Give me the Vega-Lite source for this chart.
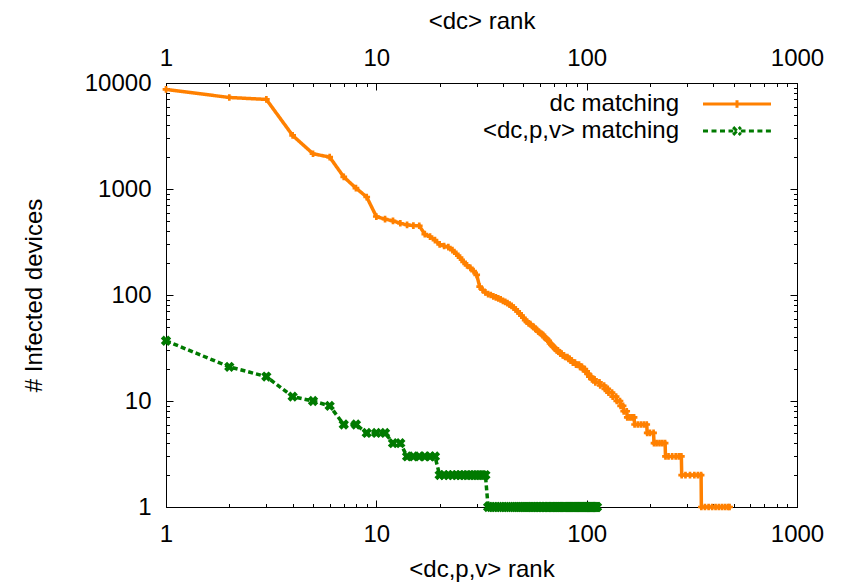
{
  "$schema": "https://vega.github.io/schema/vega-lite/v6.json",
  "width": 631,
  "height": 424,
  "autosize": {"type": "none"},
  "padding": {"left": 166, "top": 83, "right": 47, "bottom": 77},
  "background": "white",
  "config": {
    "font": "Liberation Sans",
    "view": {"stroke": "black", "strokeWidth": 1},
    "axis": {
      "labelFont": "Liberation Sans", "labelFontSize": 24, "labelColor": "black",
      "titleFont": "Liberation Sans", "titleFontSize": 24, "titleFontWeight": "normal", "titleColor": "black",
      "domainColor": "black", "tickColor": "black", "grid": false, "labelFlush": false, "labelOverlap": false
    }
  },
  "data": {"values": [
    {"s":"dc matching","rank":1,"n":8700},{"s":"dc matching","rank":2,"n":7300},{"s":"dc matching","rank":3,"n":7000},
    {"s":"dc matching","rank":4,"n":3200},{"s":"dc matching","rank":5,"n":2150},{"s":"dc matching","rank":6,"n":2000},
    {"s":"dc matching","rank":7,"n":1300},{"s":"dc matching","rank":8,"n":1020},{"s":"dc matching","rank":9,"n":840},
    {"s":"dc matching","rank":10,"n":550},{"s":"dc matching","rank":11,"n":520},{"s":"dc matching","rank":12,"n":500},
    {"s":"dc matching","rank":13,"n":475},{"s":"dc matching","rank":14,"n":458},{"s":"dc matching","rank":15,"n":452},
    {"s":"dc matching","rank":16,"n":450},{"s":"dc matching","rank":17,"n":375},{"s":"dc matching","rank":18,"n":355},
    {"s":"dc matching","rank":19,"n":330},{"s":"dc matching","rank":20,"n":300},{"s":"dc matching","rank":21,"n":290},
    {"s":"dc matching","rank":22,"n":283},{"s":"dc matching","rank":23,"n":265},{"s":"dc matching","rank":24,"n":245},
    {"s":"dc matching","rank":25,"n":225},{"s":"dc matching","rank":26,"n":205},{"s":"dc matching","rank":27,"n":190},
    {"s":"dc matching","rank":28,"n":180},{"s":"dc matching","rank":29,"n":168},{"s":"dc matching","rank":30,"n":155},
    {"s":"dc matching","rank":31,"n":120},{"s":"dc matching","rank":32,"n":112},{"s":"dc matching","rank":33,"n":106},
    {"s":"dc matching","rank":34,"n":102},{"s":"dc matching","rank":35,"n":100},{"s":"dc matching","rank":36,"n":97},
    {"s":"dc matching","rank":37,"n":95},{"s":"dc matching","rank":38,"n":93},{"s":"dc matching","rank":39,"n":91},
    {"s":"dc matching","rank":40,"n":88},{"s":"dc matching","rank":41,"n":86},{"s":"dc matching","rank":42,"n":84},
    {"s":"dc matching","rank":43,"n":81},{"s":"dc matching","rank":44,"n":79},{"s":"dc matching","rank":45,"n":76},
    {"s":"dc matching","rank":46,"n":73},{"s":"dc matching","rank":47,"n":70},{"s":"dc matching","rank":48,"n":67},
    {"s":"dc matching","rank":49,"n":64},{"s":"dc matching","rank":50,"n":61},{"s":"dc matching","rank":51,"n":58},
    {"s":"dc matching","rank":52,"n":56},{"s":"dc matching","rank":53,"n":54},{"s":"dc matching","rank":54,"n":53},
    {"s":"dc matching","rank":55,"n":51},{"s":"dc matching","rank":56,"n":50},{"s":"dc matching","rank":57,"n":48},
    {"s":"dc matching","rank":58,"n":47},{"s":"dc matching","rank":59,"n":45},{"s":"dc matching","rank":60,"n":44},
    {"s":"dc matching","rank":61,"n":43},{"s":"dc matching","rank":62,"n":42},{"s":"dc matching","rank":63,"n":40},
    {"s":"dc matching","rank":64,"n":39},{"s":"dc matching","rank":65,"n":38},{"s":"dc matching","rank":66,"n":37},
    {"s":"dc matching","rank":67,"n":35},{"s":"dc matching","rank":68,"n":34},{"s":"dc matching","rank":69,"n":33},
    {"s":"dc matching","rank":70,"n":32},{"s":"dc matching","rank":71,"n":31},{"s":"dc matching","rank":72,"n":30},
    {"s":"dc matching","rank":73,"n":30},{"s":"dc matching","rank":74,"n":29},{"s":"dc matching","rank":75,"n":28},
    {"s":"dc matching","rank":76,"n":28},{"s":"dc matching","rank":77,"n":27},{"s":"dc matching","rank":78,"n":27},
    {"s":"dc matching","rank":79,"n":26},{"s":"dc matching","rank":81,"n":26},{"s":"dc matching","rank":82,"n":25},
    {"s":"dc matching","rank":83,"n":25},{"s":"dc matching","rank":84,"n":24},{"s":"dc matching","rank":85,"n":24},
    {"s":"dc matching","rank":86,"n":23},{"s":"dc matching","rank":88,"n":23},{"s":"dc matching","rank":89,"n":22},
    {"s":"dc matching","rank":92,"n":22},{"s":"dc matching","rank":93,"n":21},{"s":"dc matching","rank":95,"n":21},
    {"s":"dc matching","rank":96,"n":20},{"s":"dc matching","rank":98,"n":20},{"s":"dc matching","rank":99,"n":19},
    {"s":"dc matching","rank":100,"n":19},{"s":"dc matching","rank":101,"n":18},{"s":"dc matching","rank":102,"n":18},
    {"s":"dc matching","rank":103,"n":17},{"s":"dc matching","rank":105,"n":17},{"s":"dc matching","rank":106,"n":16},
    {"s":"dc matching","rank":109,"n":16},{"s":"dc matching","rank":110,"n":15},{"s":"dc matching","rank":115,"n":15},
    {"s":"dc matching","rank":116,"n":14},{"s":"dc matching","rank":121,"n":14},{"s":"dc matching","rank":122,"n":13},
    {"s":"dc matching","rank":126,"n":13},{"s":"dc matching","rank":127,"n":12},{"s":"dc matching","rank":132,"n":12},
    {"s":"dc matching","rank":133,"n":11},{"s":"dc matching","rank":138,"n":11},{"s":"dc matching","rank":139,"n":10},
    {"s":"dc matching","rank":144,"n":10},{"s":"dc matching","rank":145,"n":9},{"s":"dc matching","rank":149,"n":9},
    {"s":"dc matching","rank":150,"n":8},{"s":"dc matching","rank":155,"n":8},{"s":"dc matching","rank":156,"n":7},
    {"s":"dc matching","rank":160,"n":7},{"s":"dc matching","rank":164,"n":7},{"s":"dc matching","rank":168,"n":7},
    {"s":"dc matching","rank":169,"n":6},{"s":"dc matching","rank":175,"n":6},{"s":"dc matching","rank":181,"n":6},
    {"s":"dc matching","rank":187,"n":6},{"s":"dc matching","rank":193,"n":6},{"s":"dc matching","rank":194,"n":5},
    {"s":"dc matching","rank":200,"n":5},{"s":"dc matching","rank":208,"n":5},{"s":"dc matching","rank":209,"n":4},
    {"s":"dc matching","rank":215,"n":4},{"s":"dc matching","rank":222,"n":4},{"s":"dc matching","rank":229,"n":4},
    {"s":"dc matching","rank":236,"n":4},{"s":"dc matching","rank":237,"n":3},{"s":"dc matching","rank":245,"n":3},
    {"s":"dc matching","rank":255,"n":3},{"s":"dc matching","rank":265,"n":3},{"s":"dc matching","rank":274,"n":3},
    {"s":"dc matching","rank":282,"n":3},{"s":"dc matching","rank":283,"n":2},{"s":"dc matching","rank":295,"n":2},
    {"s":"dc matching","rank":310,"n":2},{"s":"dc matching","rank":325,"n":2},{"s":"dc matching","rank":338,"n":2},
    {"s":"dc matching","rank":350,"n":2},{"s":"dc matching","rank":351,"n":1},{"s":"dc matching","rank":365,"n":1},
    {"s":"dc matching","rank":380,"n":1},{"s":"dc matching","rank":395,"n":1},{"s":"dc matching","rank":410,"n":1},
    {"s":"dc matching","rank":425,"n":1},{"s":"dc matching","rank":440,"n":1},{"s":"dc matching","rank":455,"n":1},
    {"s":"dc matching","rank":470,"n":1},{"s":"dc matching","rank":478,"n":1},
    {"s":"<dc,p,v> matching","rank":1,"n":37},{"s":"<dc,p,v> matching","rank":2,"n":21},{"s":"<dc,p,v> matching","rank":3,"n":17},
    {"s":"<dc,p,v> matching","rank":4,"n":11},{"s":"<dc,p,v> matching","rank":5,"n":10},{"s":"<dc,p,v> matching","rank":6,"n":9},
    {"s":"<dc,p,v> matching","rank":7,"n":6},{"s":"<dc,p,v> matching","rank":8,"n":6},{"s":"<dc,p,v> matching","rank":9,"n":5},
    {"s":"<dc,p,v> matching","rank":10,"n":5},{"s":"<dc,p,v> matching","rank":11,"n":5},{"s":"<dc,p,v> matching","rank":12,"n":4},
    {"s":"<dc,p,v> matching","rank":13,"n":4},{"s":"<dc,p,v> matching","rank":14,"n":3},{"s":"<dc,p,v> matching","rank":15,"n":3},
    {"s":"<dc,p,v> matching","rank":16,"n":3},{"s":"<dc,p,v> matching","rank":17,"n":3},{"s":"<dc,p,v> matching","rank":18,"n":3},
    {"s":"<dc,p,v> matching","rank":19,"n":3},{"s":"<dc,p,v> matching","rank":20,"n":2},{"s":"<dc,p,v> matching","rank":21,"n":2},
    {"s":"<dc,p,v> matching","rank":22,"n":2},{"s":"<dc,p,v> matching","rank":23,"n":2},{"s":"<dc,p,v> matching","rank":24,"n":2},
    {"s":"<dc,p,v> matching","rank":25,"n":2},{"s":"<dc,p,v> matching","rank":26,"n":2},{"s":"<dc,p,v> matching","rank":27,"n":2},
    {"s":"<dc,p,v> matching","rank":28,"n":2},{"s":"<dc,p,v> matching","rank":29,"n":2},{"s":"<dc,p,v> matching","rank":30,"n":2},
    {"s":"<dc,p,v> matching","rank":31,"n":2},{"s":"<dc,p,v> matching","rank":32,"n":2},{"s":"<dc,p,v> matching","rank":33,"n":2},
    {"s":"<dc,p,v> matching","rank":34,"n":1},{"s":"<dc,p,v> matching","rank":35,"n":1},{"s":"<dc,p,v> matching","rank":36,"n":1},
    {"s":"<dc,p,v> matching","rank":37,"n":1},{"s":"<dc,p,v> matching","rank":38,"n":1},{"s":"<dc,p,v> matching","rank":39,"n":1},
    {"s":"<dc,p,v> matching","rank":40,"n":1},{"s":"<dc,p,v> matching","rank":41,"n":1},{"s":"<dc,p,v> matching","rank":42,"n":1},
    {"s":"<dc,p,v> matching","rank":43,"n":1},{"s":"<dc,p,v> matching","rank":44,"n":1},{"s":"<dc,p,v> matching","rank":45,"n":1},
    {"s":"<dc,p,v> matching","rank":46,"n":1},{"s":"<dc,p,v> matching","rank":47,"n":1},{"s":"<dc,p,v> matching","rank":48,"n":1},
    {"s":"<dc,p,v> matching","rank":49,"n":1},{"s":"<dc,p,v> matching","rank":50,"n":1},{"s":"<dc,p,v> matching","rank":51,"n":1},
    {"s":"<dc,p,v> matching","rank":52,"n":1},{"s":"<dc,p,v> matching","rank":53,"n":1},{"s":"<dc,p,v> matching","rank":54,"n":1},
    {"s":"<dc,p,v> matching","rank":55,"n":1},{"s":"<dc,p,v> matching","rank":56,"n":1},{"s":"<dc,p,v> matching","rank":57,"n":1},
    {"s":"<dc,p,v> matching","rank":58,"n":1},{"s":"<dc,p,v> matching","rank":59,"n":1},{"s":"<dc,p,v> matching","rank":60,"n":1},
    {"s":"<dc,p,v> matching","rank":61,"n":1},{"s":"<dc,p,v> matching","rank":62,"n":1},{"s":"<dc,p,v> matching","rank":63,"n":1},
    {"s":"<dc,p,v> matching","rank":64,"n":1},{"s":"<dc,p,v> matching","rank":65,"n":1},{"s":"<dc,p,v> matching","rank":66,"n":1},
    {"s":"<dc,p,v> matching","rank":67,"n":1},{"s":"<dc,p,v> matching","rank":68,"n":1},{"s":"<dc,p,v> matching","rank":69,"n":1},
    {"s":"<dc,p,v> matching","rank":70,"n":1},{"s":"<dc,p,v> matching","rank":71,"n":1},{"s":"<dc,p,v> matching","rank":72,"n":1},
    {"s":"<dc,p,v> matching","rank":73,"n":1},{"s":"<dc,p,v> matching","rank":74,"n":1},{"s":"<dc,p,v> matching","rank":75,"n":1},
    {"s":"<dc,p,v> matching","rank":76,"n":1},{"s":"<dc,p,v> matching","rank":77,"n":1},{"s":"<dc,p,v> matching","rank":78,"n":1},
    {"s":"<dc,p,v> matching","rank":79,"n":1},{"s":"<dc,p,v> matching","rank":80,"n":1},{"s":"<dc,p,v> matching","rank":81,"n":1},
    {"s":"<dc,p,v> matching","rank":82,"n":1},{"s":"<dc,p,v> matching","rank":83,"n":1},{"s":"<dc,p,v> matching","rank":84,"n":1},
    {"s":"<dc,p,v> matching","rank":85,"n":1},{"s":"<dc,p,v> matching","rank":86,"n":1},{"s":"<dc,p,v> matching","rank":87,"n":1},
    {"s":"<dc,p,v> matching","rank":88,"n":1},{"s":"<dc,p,v> matching","rank":89,"n":1},{"s":"<dc,p,v> matching","rank":90,"n":1},
    {"s":"<dc,p,v> matching","rank":91,"n":1},{"s":"<dc,p,v> matching","rank":92,"n":1},{"s":"<dc,p,v> matching","rank":93,"n":1},
    {"s":"<dc,p,v> matching","rank":94,"n":1},{"s":"<dc,p,v> matching","rank":95,"n":1},{"s":"<dc,p,v> matching","rank":96,"n":1},
    {"s":"<dc,p,v> matching","rank":97,"n":1},{"s":"<dc,p,v> matching","rank":98,"n":1},{"s":"<dc,p,v> matching","rank":99,"n":1},
    {"s":"<dc,p,v> matching","rank":100,"n":1},{"s":"<dc,p,v> matching","rank":101,"n":1},{"s":"<dc,p,v> matching","rank":102,"n":1},
    {"s":"<dc,p,v> matching","rank":103,"n":1},{"s":"<dc,p,v> matching","rank":104,"n":1},{"s":"<dc,p,v> matching","rank":105,"n":1},
    {"s":"<dc,p,v> matching","rank":106,"n":1},{"s":"<dc,p,v> matching","rank":107,"n":1},{"s":"<dc,p,v> matching","rank":108,"n":1},
    {"s":"<dc,p,v> matching","rank":109,"n":1},{"s":"<dc,p,v> matching","rank":110,"n":1},{"s":"<dc,p,v> matching","rank":111,"n":1},
    {"s":"<dc,p,v> matching","rank":112,"n":1}
  ]},
  "layer": [
    {
      "encoding": {
        "x": {
          "field": "rank", "type": "quantitative",
          "scale": {"type": "log", "domain": [1, 1000], "nice": false},
          "axis": {
            "orient": "bottom", "title": "<dc,p,v> rank",
            "values": [1,2,3,4,5,6,7,8,9,10,20,30,40,50,60,70,80,90,100,200,300,400,500,600,700,800,900,1000],
            "format": "d",
            "labelExpr": "indexof([1,10,100,1000,10000], datum.value) >= 0 ? datum.label : ''",
            "tickSize": {"condition": {"test": "indexof([1,10,100,1000,10000], datum.value) >= 0", "value": -7}, "value": -3.5},
            "labelPadding": 22, "titlePadding": 8
          }
        },
        "y": {
          "field": "n", "type": "quantitative",
          "scale": {"type": "log", "domain": [1, 10000], "nice": false},
          "axis": {
            "orient": "left", "title": "# Infected devices",
            "values": [1,2,3,4,5,6,7,8,9,10,20,30,40,50,60,70,80,90,100,200,300,400,500,600,700,800,900,1000,2000,3000,4000,5000,6000,7000,8000,9000,10000],
            "format": "d",
            "labelExpr": "indexof([1,10,100,1000,10000], datum.value) >= 0 ? datum.label : ''",
            "tickSize": {"condition": {"test": "indexof([1,10,100,1000,10000], datum.value) >= 0", "value": -7}, "value": -3.5},
            "labelPadding": 22, "titlePadding": 38
          }
        }
      },
      "layer": [
        {
          "mark": {"type": "line", "strokeWidth": 3.5},
          "encoding": {
            "color": {
              "field": "s", "type": "nominal",
              "scale": {"domain": ["dc matching", "<dc,p,v> matching"], "range": ["#ff8000", "#007a00"]},
              "legend": {
                "title": null, "orient": "none", "legendX": 559, "legendY": 9, "padding": 0,
                "labelAlign": "right", "labelOffset": -70, "labelFontSize": 24, "labelFont": "Liberation Sans",
                "labelColor": "black", "labelLimit": 400, "symbolSize": 289, "symbolStrokeWidth": 3, "rowPadding": 3,
                "encode": {
                  "symbols": {
                    "update": {
                      "shape": {"signal": "datum.value === 'dc matching' ? 'M-4,0H4M0,-0.45V0.45' : 'M-4,0H-3.4M-3,0H-2.4M-2,0H-1.4M-1,0H-0.45M0.45,0H1M1.4,0H2M2.4,0H3M3.4,0H4M-0.45,-0.45L0.45,0.45M-0.45,0.45L0.45,-0.45'"},
                      "strokeDash": {"value": [1, 0]},
                      "fill": {"value": "transparent"}
                    }
                  }
                }
              }
            },
            "strokeDash": {
              "field": "s", "type": "nominal",
              "scale": {"domain": ["dc matching", "<dc,p,v> matching"], "range": [[1, 0], [5, 3]]},
              "legend": null
            }
          }
        },
        {
          "transform": [{"filter": "datum.s == 'dc matching'"}],
          "mark": {"type": "point", "shape": "cross", "filled": true, "size": 45, "color": "#ff8000", "opacity": 1}
        },
        {
          "transform": [{"filter": "datum.s != 'dc matching'"}],
          "mark": {"type": "point", "shape": "cross", "angle": 45, "filled": true, "size": 110, "color": "#007a00", "opacity": 1}
        }
      ]
    },
    {
      "mark": {"type": "point", "opacity": 0},
      "encoding": {
        "x": {
          "field": "rank", "type": "quantitative",
          "scale": {"type": "log", "domain": [1, 1000], "nice": false},
          "axis": {
            "orient": "top", "title": "<dc> rank",
            "values": [1,2,3,4,5,6,7,8,9,10,20,30,40,50,60,70,80,90,100,200,300,400,500,600,700,800,900,1000],
            "format": "d",
            "labelExpr": "indexof([1,10,100,1000,10000], datum.value) >= 0 ? datum.label : ''",
            "tickSize": {"condition": {"test": "indexof([1,10,100,1000,10000], datum.value) >= 0", "value": -7}, "value": -3.5},
            "labelPadding": 20, "titlePadding": 9
          }
        },
        "y": {
          "field": "n", "type": "quantitative",
          "scale": {"type": "log", "domain": [1, 10000], "nice": false},
          "axis": {
            "orient": "right", "title": null, "labels": false,
            "values": [1,2,3,4,5,6,7,8,9,10,20,30,40,50,60,70,80,90,100,200,300,400,500,600,700,800,900,1000,2000,3000,4000,5000,6000,7000,8000,9000,10000],
            "tickSize": {"condition": {"test": "indexof([1,10,100,1000,10000], datum.value) >= 0", "value": -7}, "value": -3.5}
          }
        }
      }
    }
  ],
  "resolve": {"axis": {"x": "independent", "y": "independent"}}
}
